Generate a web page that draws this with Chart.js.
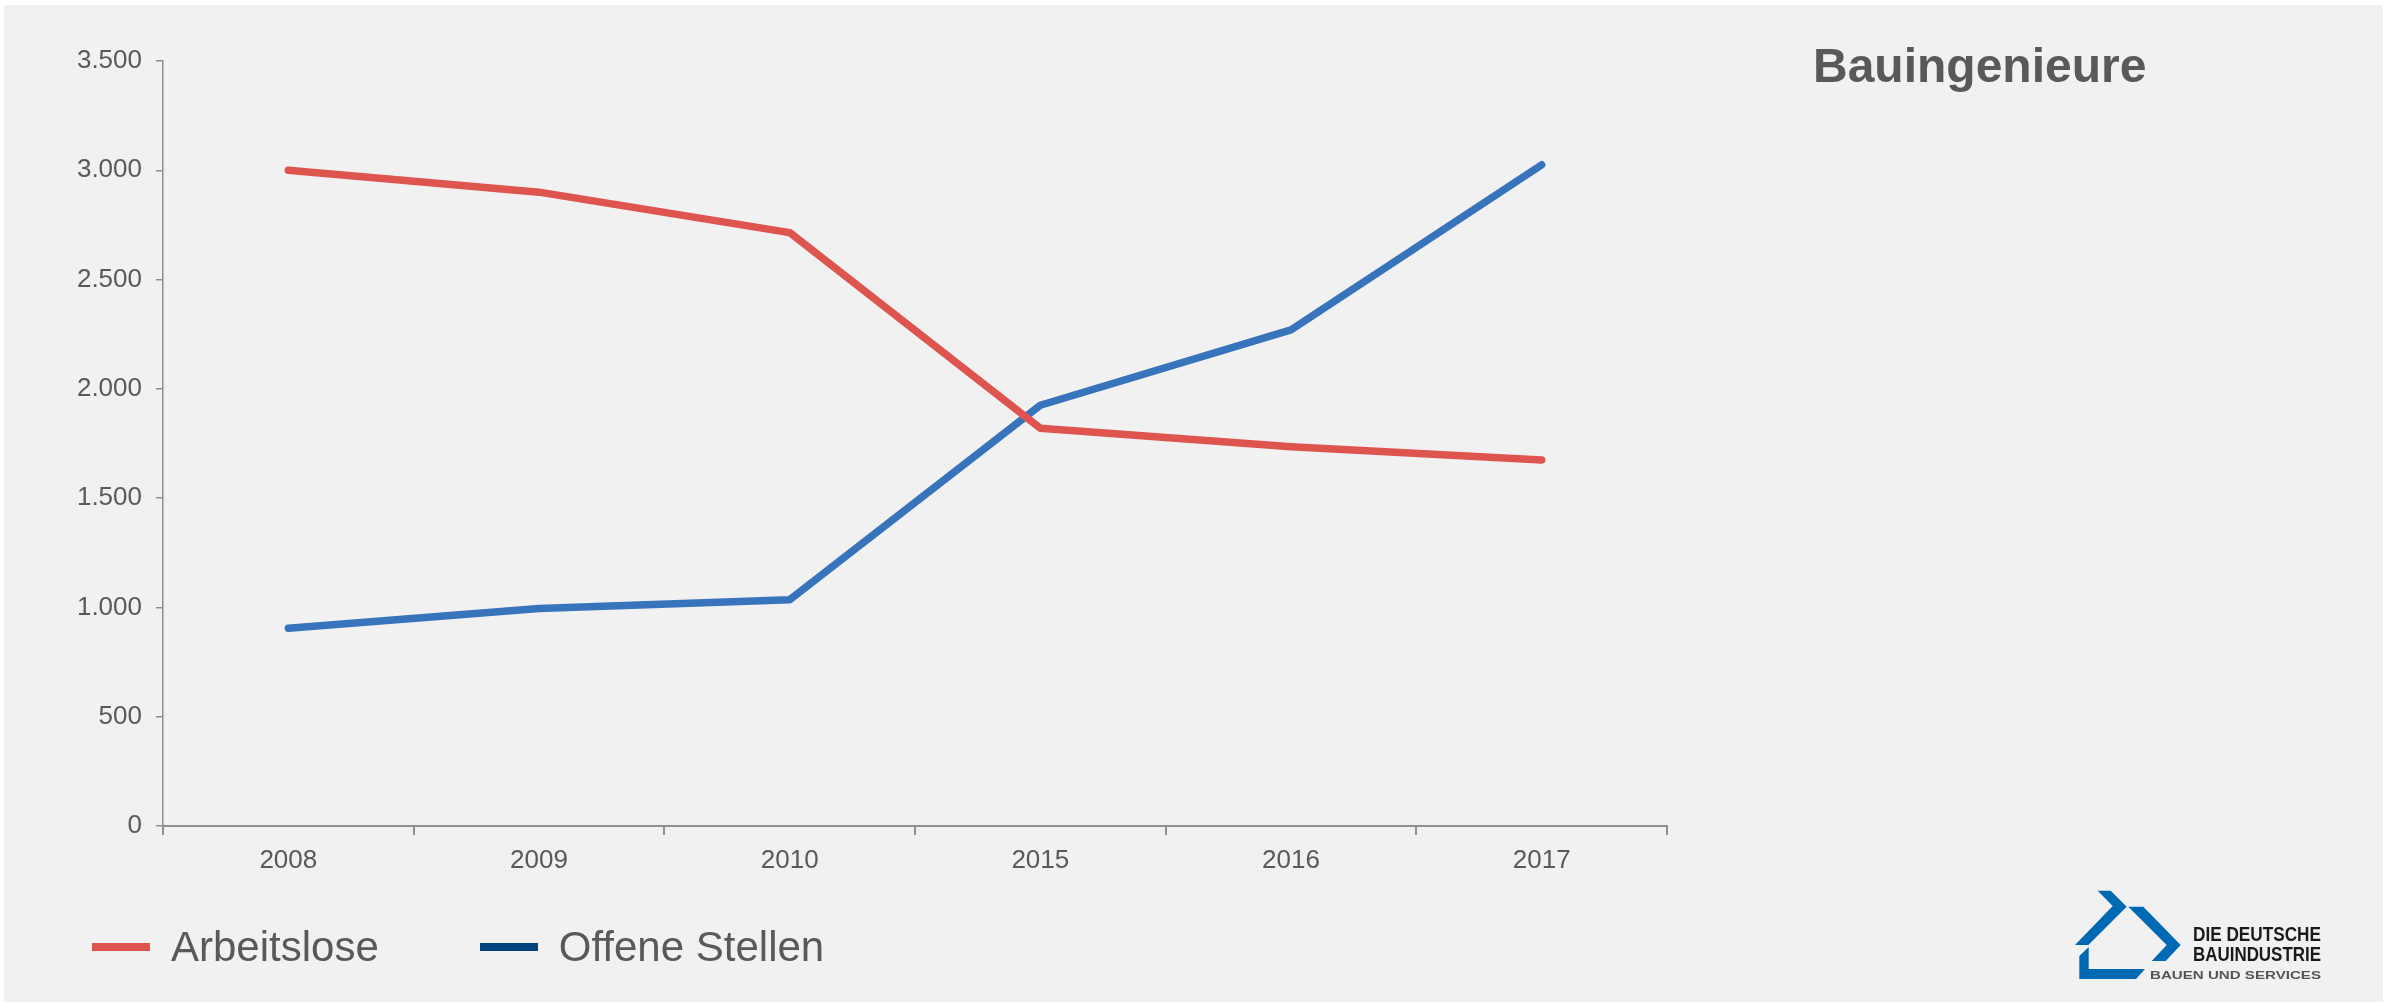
<!DOCTYPE html>
<html lang="de">
<head>
<meta charset="utf-8">
<title>Bauingenieure</title>
<script src="https://cdn.jsdelivr.net/npm/chart.js@4.4.1/dist/chart.umd.min.js"></script>
<style>
    html, body {
        margin: 0;
        padding: 0;
        width: 2394px;
        height: 1006px;
        overflow: hidden;
        background: #ffffff;
        font-family: "Liberation Sans", Arial, sans-serif;
    }
    #panel {
        position: absolute;
        left: 4px;
        top: 5px;
        width: 2379px;
        height: 997px;
        background: #f1f1f1;
    }
    #chartBox {
        position: absolute;
        left: 0;
        top: 0;
        width: 2394px;
        height: 1006px;
    }
    #chartTitle {
        position: absolute;
        left: 1813px;
        top: 42px;
        font-size: 48px;
        line-height: 48px;
        font-weight: bold;
        color: #595959;
    }
    #legend {
        position: absolute;
        left: 92px;
        top: 926px;
        height: 42px;
        display: flex;
        align-items: center;
        gap: 101px;
    }
    .legend-item {
        display: flex;
        align-items: center;
        font-size: 42px;
        line-height: 42px;
        color: #595959;
    }
    .legend-swatch {
        width: 58px;
        height: 8px;
        margin-right: 21px;
    }
    #logo {
        position: absolute;
        left: 0;
        top: 0;
    }
</style>
</head>
<body>
<div id="panel"></div>
<div id="chartBox"><canvas id="lineChart"></canvas></div>
<div id="chartTitle">Bauingenieure</div>
<div id="legend"></div>
<svg id="logo" width="2394" height="1006" viewBox="0 0 2394 1006">
    <g fill="#0069b4">
        <polygon points="2075,945 2112.7,906 2097.7,890.7 2110.7,890.7 2126.7,906.7 2088.3,945"/>
        <polygon points="2128.3,906.7 2143.3,906.7 2180.7,945 2165.7,961 2151.7,961 2166.7,945"/>
        <polygon points="2079.3,956 2088.7,947 2088.7,969 2145,969 2136,979 2079.3,979"/>
    </g>
    <g font-family="Liberation Sans, Arial, sans-serif" font-weight="bold">
        <text x="2193" y="941" font-size="19.5" fill="#1a1a1a" textLength="128" lengthAdjust="spacingAndGlyphs">DIE DEUTSCHE</text>
        <text x="2193" y="961" font-size="19.5" fill="#1a1a1a" textLength="128" lengthAdjust="spacingAndGlyphs">BAUINDUSTRIE</text>
        <text x="2150" y="979" font-size="11.6" fill="#555555" textLength="171" lengthAdjust="spacingAndGlyphs">BAUEN UND SERVICES</text>
    </g>
</svg>

<script>
// Chart data
const years = ['2008', '2009', '2010', '2015', '2016', '2017'];
const arbeitslose = [3000, 2900, 2715, 1820, 1735, 1675];
const offeneStellen = [905, 995, 1035, 1925, 2270, 3025];
const yMin = 0;
const yMax = 3500;
const yStep = 500;

const textColor = '#595959';
const axisColor = '#8f8f8f';
const fontFamily = '"Liberation Sans", Arial, sans-serif';

const ctx = document.getElementById('lineChart').getContext('2d');

const chart = new Chart(ctx, {
    type: 'line',
    data: {
        labels: years,
        datasets: [
            {
                label: 'Arbeitslose',
                data: arbeitslose,
                borderColor: '#de5550',
                legendColor: '#de5550',
                borderWidth: 7.5,
                borderCapStyle: 'round',
                borderJoinStyle: 'round',
                pointRadius: 0,
                tension: 0,
                fill: false
            },
            {
                label: 'Offene Stellen',
                data: offeneStellen,
                borderColor: '#3874bc',
                legendColor: '#00417f',
                borderWidth: 7.5,
                borderCapStyle: 'round',
                borderJoinStyle: 'round',
                pointRadius: 0,
                tension: 0,
                fill: false
            }
        ]
    },
    options: {
        responsive: true,
        maintainAspectRatio: false,
        animation: false,
        layout: {
            padding: { left: 0, top: 61, right: 727, bottom: 120 }
        },
        scales: {
            x: {
                offset: true,
                afterFit: (scale) => { scale.height = 60; },
                grid: {
                    offset: true,
                    drawOnChartArea: false,
                    drawTicks: true,
                    tickLength: 9,
                    color: axisColor,
                    lineWidth: 2
                },
                border: { color: axisColor, width: 2 },
                ticks: {
                    color: textColor,
                    padding: 10,
                    font: { family: fontFamily, size: 26 }
                }
            },
            y: {
                min: yMin,
                max: yMax,
                afterFit: (scale) => { scale.width = 163; },
                grid: {
                    drawOnChartArea: false,
                    drawTicks: true,
                    tickLength: 7,
                    color: axisColor,
                    lineWidth: 1.5
                },
                border: { color: axisColor, width: 1.5 },
                ticks: {
                    stepSize: yStep,
                    color: textColor,
                    padding: 14,
                    font: { family: fontFamily, size: 26 },
                    callback: (value) => value.toLocaleString('de-DE')
                }
            }
        },
        plugins: {
            legend: { display: false },
            tooltip: { enabled: false }
        }
    }
});

// Build the legend from the chart datasets
const legendBox = document.getElementById('legend');
chart.data.datasets.forEach((ds) => {
    const item = document.createElement('div');
    item.className = 'legend-item';
    const swatch = document.createElement('span');
    swatch.className = 'legend-swatch';
    swatch.style.background = ds.legendColor;
    const label = document.createElement('span');
    label.textContent = ds.label;
    item.appendChild(swatch);
    item.appendChild(label);
    legendBox.appendChild(item);
});
</script>
</body>
</html>
